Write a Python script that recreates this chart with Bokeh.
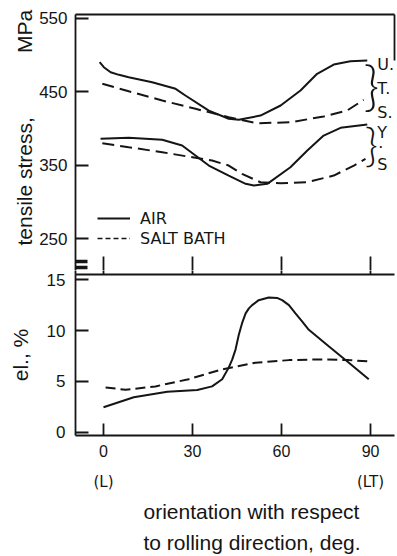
from bokeh.plotting import figure
from bokeh.layouts import column
from bokeh.models import Range1d, LinearAxis, FixedTicker, Label, Legend, LegendItem, Title
from bokeh.embed import file_html
from bokeh.resources import INLINE

# ---------------- data ----------------
x_ticks = [0, 30, 60, 90]
x_end_labels = {0: "(L)", 90: "(LT)"}
stress_ticks = [250, 350, 450, 550]
el_ticks = [0, 5, 10, 15]

uts_air_x = [-1.3, 0.1, 2.4, 5.2, 8.5, 16.4, 24.3, 27.6, 35.5, 42.2, 45.6, 52.9, 59.7, 66.4, 72.0, 77.6, 83.2, 88.9]
uts_air_y = [489.9, 483.1, 476.3, 472.7, 469.5, 462.7, 453.7, 444.6, 424.1, 412.9, 411.5, 417.3, 431.0, 451.4, 474.1, 486.7, 491.2, 492.2]

uts_salt_x = [-0.4, 8.5, 19.8, 31.0, 42.2, 51.8, 63.0, 74.2, 82.1, 87.7]
uts_salt_y = [460.5, 450.4, 437.8, 426.5, 415.0, 406.9, 408.2, 416.0, 424.1, 438.7]

ys_air_x = [-1.0, 8.5, 19.8, 26.5, 31.0, 35.5, 42.2, 47.9, 50.7, 55.2, 63.0, 68.7, 74.2, 79.9, 88.9]
ys_air_y = [385.6, 387.0, 384.3, 376.5, 362.9, 349.3, 335.7, 324.4, 322.1, 324.4, 347.0, 369.7, 390.1, 400.6, 405.1]

ys_salt_x = [-0.4, 8.5, 19.8, 31.0, 36.6, 42.2, 46.7, 52.9, 59.7, 68.7, 77.6, 84.4, 88.3]
ys_salt_y = [379.7, 374.2, 367.4, 359.8, 356.1, 349.3, 338.0, 326.6, 325.2, 326.6, 335.7, 349.3, 358.4]

el_air_x = [0, 10.2, 21.5, 31.6, 36.6, 40.0, 42.2, 43.4, 44.5, 45.6, 46.7, 47.9, 49.0, 50.1,
            52.3, 55.7, 58.5, 60.2, 62.5, 64.7, 67.0, 69.2, 75.9, 82.7, 89.4]
el_air_y = [2.46, 3.44, 3.98, 4.15, 4.51, 5.22, 6.36, 7.17, 8.14, 9.60, 10.74, 11.71, 12.20, 12.52,
            13.01, 13.27, 13.23, 13.01, 12.52, 11.71, 10.90, 10.09, 8.46, 6.85, 5.22]

el_salt_x = [0.7, 7.4, 17.5, 28.7, 40.0, 51.2, 62.5, 73.7, 82.7, 89.4]
el_salt_y = [4.41, 4.18, 4.51, 5.22, 6.19, 6.85, 7.10, 7.17, 7.10, 6.97]

legend_labels = ["AIR", "SALT BATH"]
stress_title = "tensile stress," + "\u00a0" * 11 + "MPa"
el_title = "el., %"
x_title = ["orientation with respect", "to rolling direction, deg."]
break_ticks = [210.5, 218.7]
# ---------------------------------------------------------------

INK = "#151515"
SANS = "Liberation Sans"
TYPE = "DejaVu Sans"
LW = 2.0
DASH = "12 6"
AX_W = 1.8
X0 = -9.44          # left end of the shared x range
x_range = Range1d(X0, 98.08)


def hide_labels(a):
    a.major_label_text_font_size = "0px"
    a.major_label_text_color = None
    a.major_label_standoff = 0


def no_tick_axis(**kw):
    a = LinearAxis(ticker=FixedTicker(ticks=[]), major_tick_in=0, major_tick_out=0,
                   minor_tick_in=0, minor_tick_out=0,
                   axis_line_color=INK, axis_line_width=AX_W, **kw)
    hide_labels(a)
    return a


def style_ticks(a, tin, tout=0):
    a.major_tick_in = tin
    a.major_tick_out = tout
    a.minor_tick_in = 0
    a.minor_tick_out = 0
    a.major_tick_line_color = INK
    a.major_tick_line_width = AX_W


# ---------------- upper panel: tensile stress ----------------
p1 = figure(width=397, height=270, output_backend="svg", toolbar_location=None,
            x_range=x_range, y_range=Range1d(206.5, 554.8),
            min_border_left=75, min_border_right=3, min_border_top=14, min_border_bottom=0,
            outline_line_color=None, background_fill_color="white", border_fill_color="white")
p1.grid.visible = False

xa = p1.xaxis[0]
xa.ticker = FixedTicker(ticks=x_ticks)
style_ticks(xa, 14)
xa.axis_line_color = None
hide_labels(xa)

ya = p1.yaxis[0]
ya.ticker = FixedTicker(ticks=stress_ticks)
style_ticks(ya, 13)
ya.axis_line_color = INK
ya.axis_line_width = AX_W
ya.major_label_text_font = SANS
ya.major_label_text_font_size = "17px"
ya.major_label_text_color = INK
ya.major_label_standoff = 8

p1.add_layout(no_tick_axis(), "above")
p1.add_layout(no_tick_axis(bounds=(492, 554.8)), "right")

p1.add_layout(Title(text=stress_title, align="left", offset=25, standoff=2,
                    text_font=SANS, text_font_size="21px", text_font_style="normal",
                    text_color=INK), "left")

# axis break mark: two thick short strokes crossing the left axis
brk = LinearAxis(fixed_location=X0, ticker=FixedTicker(ticks=break_ticks), axis_line_color=None)
style_ticks(brk, 12, 7)
brk.major_tick_line_width = 3.5
hide_labels(brk)
p1.add_layout(brk, "left")

p1.line(uts_air_x, uts_air_y, line_color=INK, line_width=LW)
p1.line(uts_salt_x, uts_salt_y, line_color=INK, line_width=LW, line_dash=DASH)
p1.line(ys_air_x, ys_air_y, line_color=INK, line_width=LW)
p1.line(ys_salt_x, ys_salt_y, line_color=INK, line_width=LW, line_dash=DASH)

# legend with its own sample styles (single-point lines draw nothing in the plot)
r_leg_air = p1.line(x=uts_air_x[:1], y=uts_air_y[:1], line_color=INK, line_width=LW)
r_leg_salt = p1.line(x=uts_salt_x[:1], y=uts_salt_y[:1], line_color=INK, line_width=1.6,
                     line_dash="5 3")
leg = Legend(items=[LegendItem(label=legend_labels[0], renderers=[r_leg_air]),
                    LegendItem(label=legend_labels[1], renderers=[r_leg_salt])],
             location=(22, 22), orientation="vertical", glyph_width=33, glyph_height=20,
             label_height=20, spacing=0, padding=0, margin=0, label_standoff=10,
             border_line_color=None, background_fill_alpha=0,
             label_text_font=TYPE, label_text_font_size="16px", label_text_color=INK)
p1.add_layout(leg)

# braces and U.T.S. / Y.S labels
BRACE_FONT = "Lato Light, Lato"
p1.add_layout(Label(x=90.3, y=459.5, text="}", text_align="center", text_baseline="middle",
                    text_font=BRACE_FONT, text_font_size="54px", text_color=INK))
p1.add_layout(Label(x=90.3, y=378.6, text="}", text_align="center", text_baseline="middle",
                    text_font=BRACE_FONT, text_font_size="45px", text_color=INK))
for t, yv in [("U.", 486.7), ("T.", 454.1), ("S.", 421.4), ("Y", 394.2), ("S", 350.7)]:
    p1.add_layout(Label(x=92.3, y=yv, text=t, text_align="left", text_baseline="middle",
                        text_font=TYPE, text_font_size="16px", text_color=INK))
p1.add_layout(Label(x=92.6, y=381.0, text=".", text_align="left", text_baseline="middle",
                    text_font=TYPE, text_font_size="16px", text_color=INK))

# ---------------- lower panel: elongation ----------------
p2 = figure(width=397, height=286, output_backend="svg", toolbar_location=None,
            x_range=x_range, y_range=Range1d(-0.33, 15.54),
            min_border_left=75, min_border_right=3, min_border_top=4, min_border_bottom=119,
            outline_line_color=None, background_fill_color="white", border_fill_color="white")
p2.grid.visible = False

xb = p2.xaxis[0]
xb.ticker = FixedTicker(ticks=x_ticks)
style_ticks(xb, 12)
xb.axis_line_color = INK
xb.axis_line_width = AX_W
xb.major_label_text_font = SANS
xb.major_label_text_font_size = "16px"
xb.major_label_text_color = INK
xb.major_label_standoff = 9

xe = LinearAxis(ticker=FixedTicker(ticks=list(x_end_labels.keys())),
                major_label_overrides=x_end_labels, axis_line_color=None,
                major_tick_line_color=None, major_tick_in=0, major_tick_out=0,
                minor_tick_in=0, minor_tick_out=0, major_label_standoff=13,
                major_label_text_font=TYPE, major_label_text_font_size="15px",
                major_label_text_color=INK)
p2.add_layout(xe, "below")
for i, t in enumerate(x_title):
    p2.add_layout(Title(text=t, align="left", offset=68, standoff=5 if i else 8,
                        text_font=SANS, text_font_size="21px", text_font_style="normal",
                        text_color=INK), "below")

# top edge of the lower panel; its ticks continue the upper panel's x ticks and left edge
xt = LinearAxis(ticker=FixedTicker(ticks=[X0] + x_ticks), axis_line_color=INK, axis_line_width=AX_W)
style_ticks(xt, 0, 4)
hide_labels(xt)
p2.add_layout(xt, "above")

yb = p2.yaxis[0]
yb.ticker = FixedTicker(ticks=el_ticks)
style_ticks(yb, 13)
yb.axis_line_color = INK
yb.axis_line_width = AX_W
yb.major_label_text_font = SANS
yb.major_label_text_font_size = "17px"
yb.major_label_text_color = INK
yb.major_label_standoff = 10
yb.axis_label = el_title
yb.axis_label_text_font = SANS
yb.axis_label_text_font_size = "21px"
yb.axis_label_text_font_style = "normal"
yb.axis_label_text_color = INK
yb.axis_label_standoff = 12

p2.line(el_air_x, el_air_y, line_color=INK, line_width=LW)
p2.line(el_salt_x, el_salt_y, line_color=INK, line_width=LW, line_dash="10 5")

layout = column(p1, p2, spacing=0)
open("out.html", "w").write(file_html(layout, INLINE))
